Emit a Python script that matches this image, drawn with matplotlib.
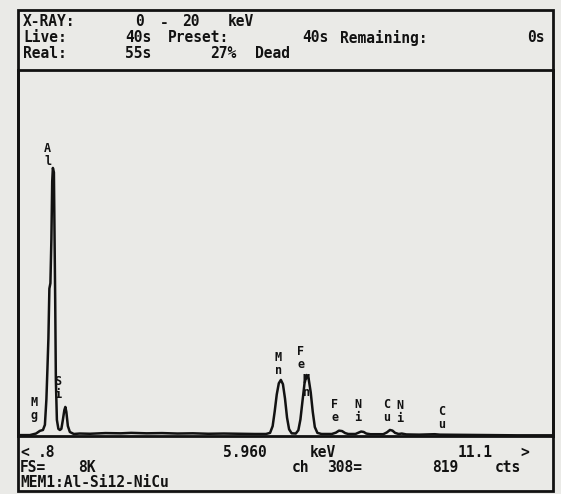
import matplotlib
matplotlib.use("Agg")
import matplotlib.pyplot as plt
from matplotlib.patches import Rectangle

# -------------------------- Data --------------------------
# spectrum trace (energy in keV, counts)
energy = [0.80, 1.03, 1.15, 1.226, 1.285, 1.323, 1.352, 1.372, 1.391, 1.41,
          1.43, 1.449, 1.465, 1.478, 1.498, 1.511, 1.523, 1.536, 1.556, 1.585,
          1.614, 1.643, 1.672, 1.701, 1.72, 1.74, 1.769, 1.808, 1.885,
          2.0, 2.2, 2.5, 2.8, 3.0, 3.3, 3.6, 3.9, 4.2, 4.5, 4.8, 5.1, 5.4,
          5.62, 5.70, 5.75, 5.79, 5.83, 5.87, 5.91, 5.95, 5.99, 6.03, 6.07, 6.12,
          6.20, 6.25, 6.29, 6.33, 6.37, 6.41, 6.45, 6.49, 6.53, 6.57, 6.62, 6.70,
          6.90, 6.98, 7.04, 7.10, 7.16, 7.22,
          7.36, 7.42, 7.47, 7.52, 7.57, 7.65,
          7.90, 7.97, 8.03, 8.08, 8.13, 8.20, 8.26, 8.35,
          8.60, 8.90, 9.00, 9.50, 10.0, 10.5, 11.2]
counts = [20, 20, 55, 115, 135, 250, 820, 1500, 2185, 3300,
          3420, 4400, 5700, 6000, 5900, 4400, 3050, 1250, 360, 160,
          135, 160, 360, 580, 650, 540, 225, 90, 45,
          55, 50, 65, 60, 70, 60, 65, 55, 60, 50, 55, 50, 45,
          45, 70, 220, 550, 930, 1180, 1255, 1160, 840, 410, 150, 60,
          55, 130, 370, 780, 1180, 1365, 1280, 980, 540, 200, 70, 45,
          45, 75, 120, 110, 65, 45,
          45, 75, 100, 90, 55, 40,
          40, 80, 135, 120, 70, 45, 55, 35,
          30, 40, 30, 25, 20, 15, 15]

# element markers: label, energy position, counts position
peak_labels = ["Mg", "Al", "Si", "Mn", "Fe", "Mn", "Fe", "Ni", "Cu", "Ni", "Cu"]
label_energy = [1.11, 1.38, 1.575, 5.86, 6.30, 6.40, 6.96, 7.41, 7.97, 8.22, 9.04]
label_counts = [604, 6290, 1074, 1611, 1746, 1119, 560, 560, 560, 537, 403]

x_range = (0.8, 11.2)
full_scale = 8192   # FS= 8K

header_lines = [
    [("X-RAY:", 23), ("0", 135), ("-", 160), ("20", 182), ("keV", 228)],
    [("Live:", 23), ("40s", 125), ("Preset:", 168), ("40s", 302),
     ("Remaining:", 340), ("0s", 527)],
    [("Real:", 23), ("55s", 125), ("27%", 210), ("Dead", 255)],
]
footer_lines = [
    [("<", 20), (".8", 38), ("5.960", 223), ("keV", 310), ("11.1", 458), (">", 520)],
    [("FS=", 20), ("8K", 78), ("ch", 292), ("308=", 327), ("819", 432), ("cts", 495)],
    [("MEM1:Al-Si12-NiCu", 20)],
]

# -------------------------- Plot --------------------------
W, H = 561, 494
BG = "#eaeae7"
INK = "#121212"
MONO = ["DejaVu Sans Mono"]

fig = plt.figure(figsize=(W / 100, H / 100), dpi=100, facecolor=BG)

def fx(x):
    return x / W

def fy(y):
    return 1 - y / H

left, right, top, bottom = 18, 553, 70, 436
ax = fig.add_axes([fx(left), fy(bottom), fx(right) - fx(left), fy(top) - fy(bottom)])
ax.set_facecolor(BG)
ax.plot(energy, counts, color=INK, lw=1.8)
ax.set_xlim(*x_range)
ax.set_ylim(0, full_scale)
ax.set_xticks([])
ax.set_yticks([])
for s in ax.spines.values():
    s.set_color(INK)
    s.set_linewidth(2)

for lab, e, c in zip(peak_labels, label_energy, label_counts):
    ax.text(e, c, lab[0] + "\n" + lab[1], ha="center", va="center",
            family=MONO, fontweight="bold", fontsize=8.5, linespacing=1.05,
            color=INK)

# outer frame of the screen
fig.add_artist(Rectangle((fx(left), fy(491)), fx(right) - fx(left), fy(10) - fy(491),
                         transform=fig.transFigure, fill=False, lw=2,
                         edgecolor=INK))

def put_lines(lines, y0, step):
    for i, row in enumerate(lines):
        for txt, x in row:
            fig.text(fx(x), fy(y0 + i * step), txt, ha="left", va="center",
                     family=MONO, fontweight="bold", fontsize=10.5, color=INK)

put_lines(header_lines, 22, 16)
put_lines(footer_lines, 452, 15)

fig.savefig("out.png", dpi=100, facecolor=BG)
